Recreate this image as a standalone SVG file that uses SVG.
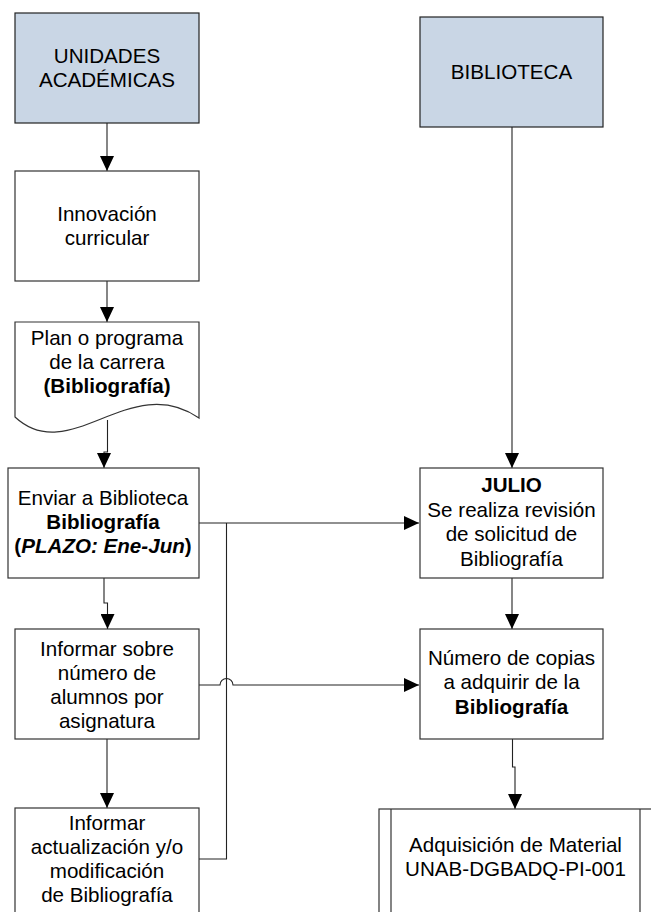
<svg xmlns="http://www.w3.org/2000/svg" width="651" height="912" viewBox="0 0 651 912">
<style>
.box{fill:#ffffff;stroke:#333333;stroke-width:1.2}
.hdr{fill:#C9D6E5;stroke:#222222;stroke-width:1.2}
.t{font-family:"Liberation Sans",Arial,sans-serif;font-size:20.6px;fill:#000;text-anchor:middle}
.b{font-weight:bold}
.bi{font-weight:bold;font-style:italic}
.c{fill:none;stroke:#222222;stroke-width:1.1}
</style>
<defs>
<marker id="ah" markerUnits="userSpaceOnUse" markerWidth="16" markerHeight="14" refX="15" refY="7" orient="auto">
<path d="M0,0 L15,7 L0,14 z" fill="#000"/>
</marker>
</defs>
<rect width="651" height="912" fill="#ffffff"/>

<g id="connectors">
<path class="c" d="M107,123 V171" marker-end="url(#ah)"/>
<path class="c" d="M107,281 V322" marker-end="url(#ah)"/>
<path class="c" d="M107.5,420 V452 H104 V468" marker-end="url(#ah)"/>
<path class="c" d="M104,578 V603 H107.5 V629" marker-end="url(#ah)"/>
<path class="c" d="M107,739 V808" marker-end="url(#ah)"/>
<path class="c" d="M199,523 H419" marker-end="url(#ah)"/>
<path class="c" d="M199,859 H226.5 V523"/>
<path class="c" d="M199,685 H220 A6.5,6.5 0 0 1 233,685 H419" marker-end="url(#ah)"/>
<path class="c" d="M512,127 V468" marker-end="url(#ah)"/>
<path class="c" d="M512,578 V629" marker-end="url(#ah)"/>
<path class="c" d="M512.5,739 V767 H515 V809" marker-end="url(#ah)"/>
</g>

<g id="unidades">
<rect class="hdr" x="15" y="13" width="184" height="110"/>
<text class="t" x="107" y="63">UNIDADES</text>
<text class="t" x="107" y="87">ACADÉMICAS</text>
</g>

<g id="biblioteca">
<rect class="hdr" x="420" y="17" width="183" height="110"/>
<text class="t" x="511.5" y="79">BIBLIOTECA</text>
</g>

<g id="innovacion">
<rect class="box" x="15" y="171" width="184" height="110"/>
<text class="t" x="107" y="221">Innovación</text>
<text class="t" x="107" y="245">curricular</text>
</g>

<g id="plan">
<path class="box" d="M15,322 H199 V418 C130,370 70,468 15,417 Z"/>
<text class="t" x="107" y="345">Plan o programa</text>
<text class="t" x="107" y="369">de la carrera</text>
<text class="t b" x="107" y="393">(Bibliografía)</text>
</g>

<g id="enviar">
<rect class="box" x="8" y="468" width="191" height="110"/>
<text class="t" x="103" y="505">Enviar a Biblioteca</text>
<text class="t b" x="103" y="529">Bibliografía</text>
<text class="t b" x="103" y="553">(<tspan class="bi">PLAZO: Ene-Jun</tspan>)</text>
</g>

<g id="informar-alumnos">
<rect class="box" x="15" y="629" width="184" height="110"/>
<text class="t" x="107" y="656">Informar sobre</text>
<text class="t" x="107" y="680">número de</text>
<text class="t" x="107" y="704">alumnos por</text>
<text class="t" x="107" y="728">asignatura</text>
</g>

<g id="informar-actualizacion">
<rect class="box" x="15" y="808" width="184" height="120"/>
<text class="t" x="107" y="830">Informar</text>
<text class="t" x="107" y="854">actualización y/o</text>
<text class="t" x="107" y="878">modificación</text>
<text class="t" x="107" y="902">de Bibliografía</text>
</g>

<g id="julio">
<rect class="box" x="420" y="468" width="183" height="110"/>
<text class="t b" x="511.5" y="492">JULIO</text>
<text class="t" x="511.5" y="517">Se realiza revisión</text>
<text class="t" x="511.5" y="541">de solicitud de</text>
<text class="t" x="511.5" y="566">Bibliografía</text>
</g>

<g id="numero">
<rect class="box" x="420" y="629" width="183" height="110"/>
<text class="t" x="511.5" y="665">Número de copias</text>
<text class="t" x="511.5" y="689">a adquirir de la</text>
<text class="t b" x="511.5" y="714">Bibliografía</text>
</g>

<g id="adquisicion">
<rect class="box" x="379" y="809" width="280" height="120"/>
<line class="box" x1="391" y1="809" x2="391" y2="929"/>
<line class="box" x1="640" y1="809" x2="640" y2="929"/>
<text class="t" x="515.5" y="852">Adquisición de Material</text>
<text class="t" x="515.5" y="876">UNAB-DGBADQ-PI-001</text>
</g>
</svg>
